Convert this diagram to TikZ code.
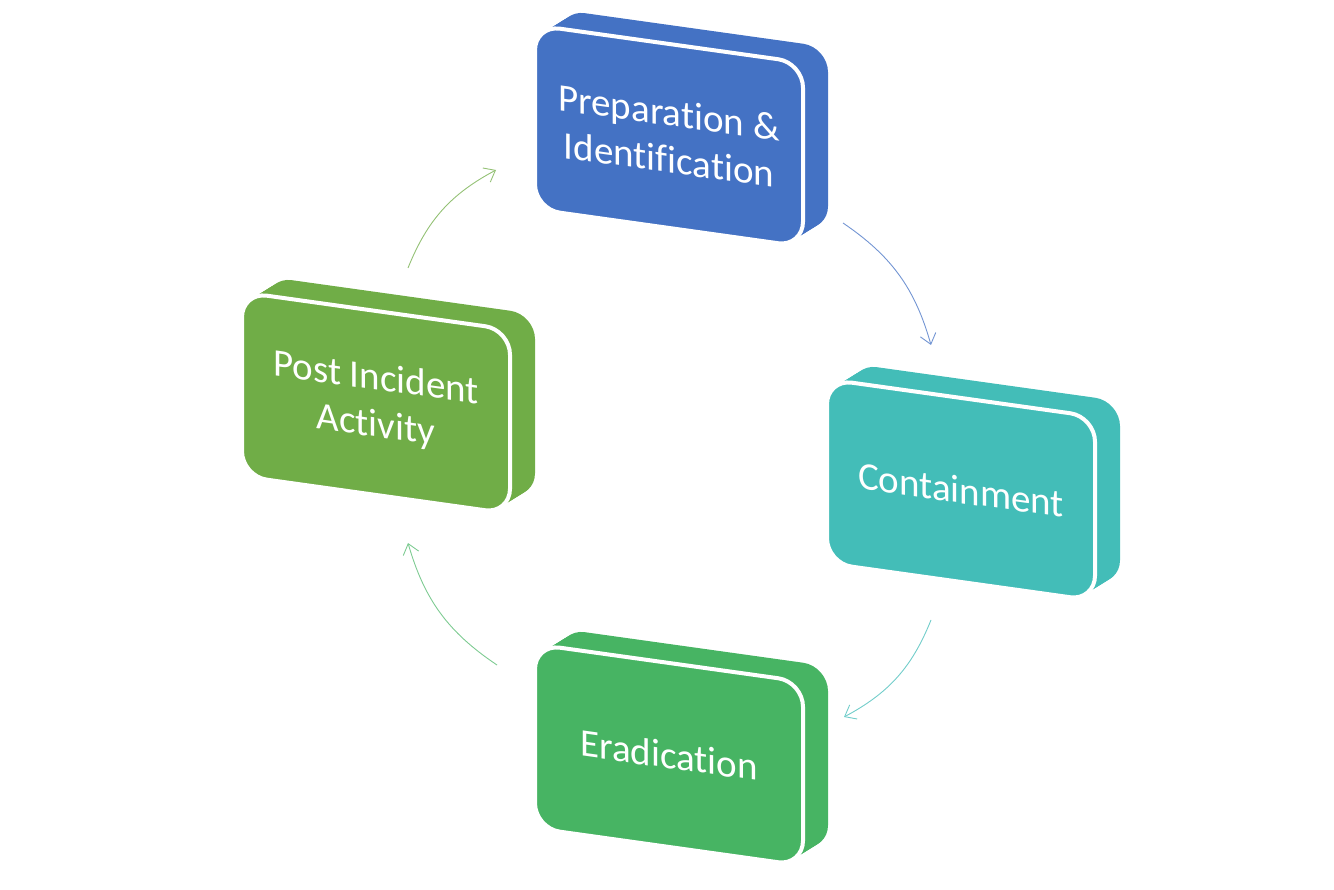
\documentclass[tikz,border=0pt]{standalone}
\usepackage{fontspec}
\setmainfont[Ligatures=NoCommon]{Carlito}
\usetikzlibrary{arrows.meta}
\definecolor{cblue}{HTML}{4472C4}
\definecolor{cteal}{HTML}{43BDB8}
\definecolor{cgreen}{HTML}{70AD47}
\definecolor{cgreentwo}{HTML}{47B463}
\tikzset{
  boxtext/.style={text=white, font=\fontsize{39}{47}\selectfont, align=center, transform shape, inner sep=0pt},
  flow/.style={line width=0.9pt, -{Straight Barb[length=10pt,width=16pt]}, bend left=20},
}
\newcommand{\cubebox}[5]{%
  \begin{scope}[shift={(#1,#2)}, yslant=-0.14]
    \foreach \t in {0,1,...,12} {
      \fill[#3, rounded corners=25pt] (25*\t/12, -19*\t/12) rectangle ++(268,184);
    }
    \filldraw[fill=#3, draw=white, line width=4pt, rounded corners=25pt] (0,0) rectangle (268,184);
    \node[boxtext] (#4) at (134,92) {#5};
  \end{scope}}
\begin{document}
\begin{tikzpicture}[x=1pt, y=-1pt]
  \useasboundingbox (0,0) rectangle (1334,890);
  \cubebox{535}{25.2}{cblue}{prep}{Preparation \&\\Identification}
  \cubebox{827}{379.2}{cteal}{cont}{Containment}
  \cubebox{535}{644.2}{cgreentwo}{erad}{Eradication}
  \cubebox{242}{292.2}{cgreen}{post}{Post Incident\\Activity}
  \coordinate (a1s) at (408,268);
  \coordinate (a1e) at (496,170);
  \coordinate (a2s) at (843,223);
  \coordinate (a2e) at (931,345);
  \coordinate (a3s) at (931,620);
  \coordinate (a3e) at (844,717);
  \coordinate (a4s) at (497,665);
  \coordinate (a4e) at (408,543);
  \draw[flow, draw=cgreen!75!white] (a1s) to (a1e);
  \draw[flow, draw=cblue!75!white] (a2s) to (a2e);
  \draw[flow, draw=cteal!75!white] (a3s) to (a3e);
  \draw[flow, draw=cgreentwo!70!white] (a4s) to (a4e);
\end{tikzpicture}
\end{document}
